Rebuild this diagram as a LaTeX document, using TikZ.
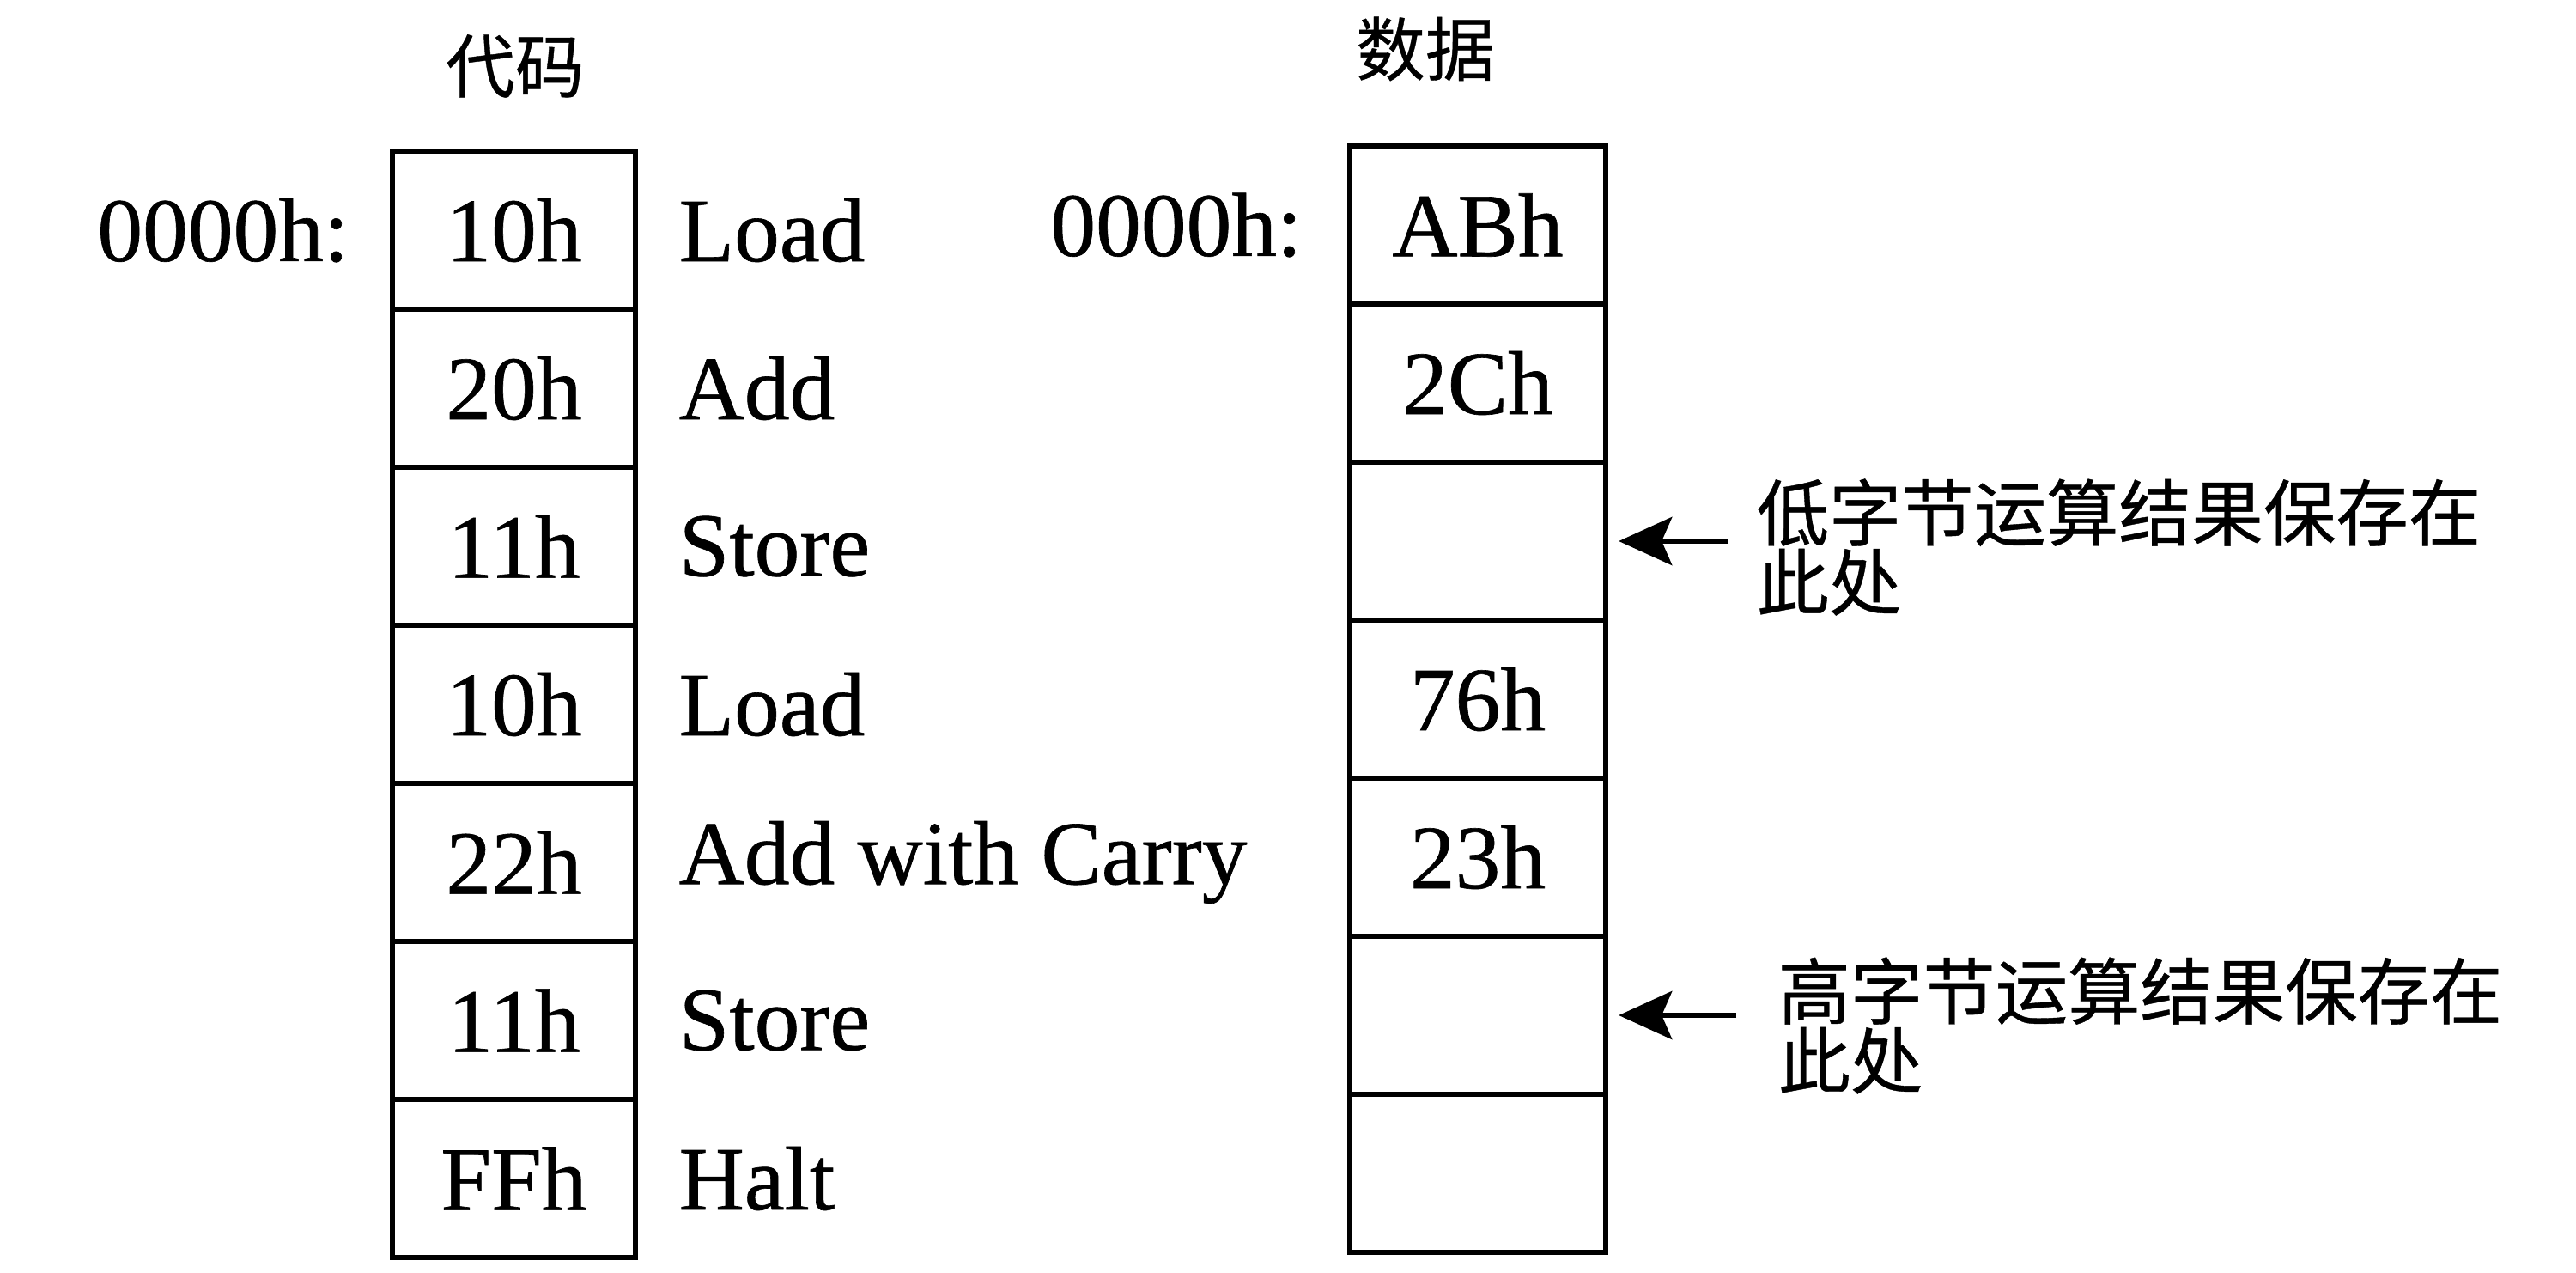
\documentclass[tikz,border=0pt]{standalone}
\usepackage{fontspec}
\setmainfont{Liberation Serif}[FakeBold=0.6]
\newfontfamily\cjk{Noto Sans CJK SC}[FakeBold=0.5]
\usetikzlibrary{arrows.meta}
\begin{document}
\begin{tikzpicture}[
  codecell/.style={draw, line width=1.8pt, minimum width=2.83cm, minimum height=1.84cm, inner sep=0pt, font=\fontsize{30}{34}\selectfont},
  datacell/.style={draw, line width=1.8pt, minimum width=2.98cm, minimum height=1.84cm, inner sep=0pt, font=\fontsize{30}{34}\selectfont},
  oplabel/.style={anchor=west, inner sep=0pt, font=\fontsize{30}{34}\selectfont},
  addrlabel/.style={anchor=east, inner sep=0pt, font=\fontsize{30}{34}\selectfont},
  title/.style={inner sep=0pt, font=\cjk\fontsize{23}{26}\selectfont},
  note/.style={anchor=west, align=left, inner sep=0pt, font=\cjk\fontsize{24}{23}\selectfont},
  pointer/.style={line width=1.8pt, -{Stealth[length=0.62cm, width=0.56cm, inset=0.12cm, fill=black]}}
]
\useasboundingbox (0,0) rectangle (30,-14.81);
% titles
\node[title] (tcode) at (6.00,-0.77) {代码};
\node[title] (tdata) at (16.60,-0.57) {数据};
% code column
\node[codecell] (c1) at (5.985,-2.68) {10h};
\node[codecell] (c2) at (5.985,-4.52) {20h};
\node[codecell] (c3) at (5.985,-6.36) {11h};
\node[codecell] (c4) at (5.985,-8.20) {10h};
\node[codecell] (c5) at (5.985,-10.04) {22h};
\node[codecell] (c6) at (5.985,-11.88) {11h};
\node[codecell] (c7) at (5.985,-13.72) {FFh};
\node[oplabel] (o1) at (7.90,-2.68) {Load};
\node[oplabel] (o2) at (7.90,-4.52) {Add};
\node[oplabel] (o3) at (7.90,-6.36) {Store};
\node[oplabel] (o4) at (7.90,-8.20) {Load};
\node[oplabel] (o5) at (7.90,-10.04) {Add with Carry};
\node[oplabel] (o6) at (7.90,-11.88) {Store};
\node[oplabel] (o7) at (7.90,-13.72) {Halt};
\node[addrlabel] (a1) at (4.07,-2.68) {0000h:};
% data column
\node[datacell] (d1) at (17.21,-2.62) {ABh};
\node[datacell] (d2) at (17.21,-4.46) {2Ch};
\node[datacell] (d3) at (17.21,-6.30) {};
\node[datacell] (d4) at (17.21,-8.14) {76h};
\node[datacell] (d5) at (17.21,-9.98) {23h};
\node[datacell] (d6) at (17.21,-11.82) {};
\node[datacell] (d7) at (17.21,-13.66) {};
\node[addrlabel] (a2) at (15.17,-2.62) {0000h:};
% notes
\node[note] (n1) at (20.45,-6.37) {低字节运算结果保存在\\此处};
\node[note] (n2) at (20.70,-11.94) {高字节运算结果保存在\\此处};
\coordinate (p1) at (20.13,-6.30);
\coordinate (p2) at (20.22,-11.82);
\draw[pointer] (p1) -- ([xshift=0.12cm]d3.east);
\draw[pointer] (p2) -- ([xshift=0.12cm]d6.east);
\end{tikzpicture}
\end{document}
